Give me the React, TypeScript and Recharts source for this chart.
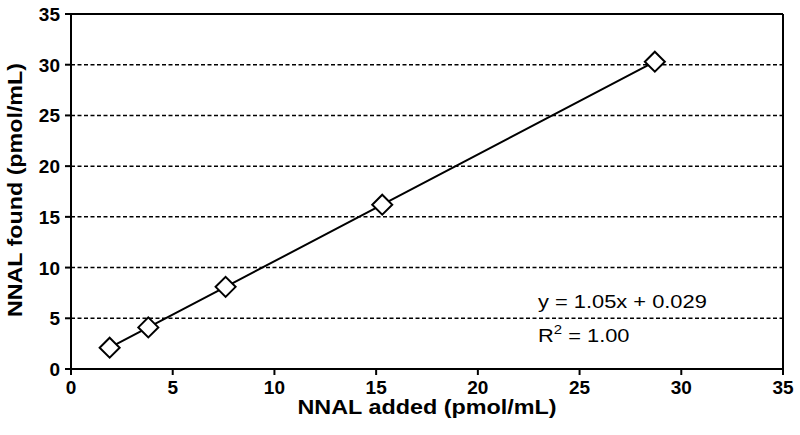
import { ComposedChart, Scatter, XAxis, YAxis, CartesianGrid, ReferenceLine, Customized } from 'recharts'

// NNAL spiked vs. measured (pmol/mL)
const added = [1.9, 3.8, 7.6, 15.3, 28.7]
const found = [2.1, 4.1, 8.1, 16.2, 30.3]
const xTicks = [0, 5, 10, 15, 20, 25, 30, 35]
const yTicks = [0, 5, 10, 15, 20, 25, 30, 35]
const xTitle = 'NNAL added (pmol/mL)'
const yTitle = 'NNAL found (pmol/mL)'
const equation = 'y = 1.05x + 0.029'
const rSquared = '1.00'

const data = added.map((x, i) => ({ x, y: found[i] }))

const font = 'Liberation Sans, Arial, sans-serif'

const Diamond = (props: any) => {
  const { cx, cy } = props
  const r = 10
  return (
    <path
      d={`M${cx},${cy - r} L${cx + r},${cy} L${cx},${cy + r} L${cx - r},${cy} Z`}
      fill="#fff"
      stroke="#000"
      strokeWidth={2}
    />
  )
}

const XTick = (props: any) => {
  const { x, y, payload } = props
  return (
    <text x={x} y={y + 19} textAnchor="middle" fontFamily={font} fontSize={19} fontWeight="bold" fill="#000">
      {payload.value}
    </text>
  )
}

const YTick = (props: any) => {
  const { x, y, payload } = props
  return (
    <text x={x} y={y + 7} textAnchor="end" fontFamily={font} fontSize={19} fontWeight="bold" fill="#000">
      {payload.value}
    </text>
  )
}

// titles + fit equation, drawn straight into the svg
const Annotation = () => (
  <g fontFamily={font} fill="#000">
    <text
      x={427}
      y={414}
      textAnchor="middle"
      fontSize={20}
      fontWeight="bold"
      textLength={259}
      lengthAdjust="spacingAndGlyphs"
    >
      {xTitle}
    </text>
    <text
      x={22}
      y={190}
      transform="rotate(-90, 22, 190)"
      textAnchor="middle"
      fontSize={21}
      fontWeight="bold"
      textLength={254}
      lengthAdjust="spacingAndGlyphs"
    >
      {yTitle}
    </text>
    <g transform="translate(538,0) scale(1.15,1) translate(-538,0)" fontSize={19}>
      <text x={538} y={308}>{equation}</text>
      <text x={538} y={342}>
        R<tspan dy={-8} fontSize={13}>2</tspan>
        <tspan dy={8}> = {rSquared}</tspan>
      </text>
    </g>
  </g>
)

export default function App() {
  return (
    <div style={{ position: 'absolute', left: 0, top: 0, width: 800, height: 435, background: '#fff' }}>
      <ComposedChart
        width={800}
        height={435}
        data={data}
        margin={{ top: 14, right: 17, left: 0, bottom: 0 }}
      >
        <CartesianGrid
          horizontal
          vertical={false}
          stroke="#000"
          strokeWidth={1.5}
          strokeDasharray="4 2.5"
        />
        <XAxis
          type="number"
          dataKey="x"
          domain={[0, 35]}
          ticks={xTicks}
          height={66}
          stroke="#000"
          strokeWidth={2}
          tickSize={6}
          tickMargin={0}
          tickLine={{ stroke: '#000', strokeWidth: 2 }}
          tick={<XTick />}
        />
        <YAxis
          type="number"
          dataKey="y"
          domain={[0, 35]}
          ticks={yTicks}
          width={71}
          stroke="#000"
          strokeWidth={2}
          tickSize={6}
          tickMargin={5}
          tickLine={{ stroke: '#000', strokeWidth: 2 }}
          tick={<YTick />}
        />
        <ReferenceLine y={35} stroke="#000" strokeWidth={2} />
        <ReferenceLine x={35} stroke="#000" strokeWidth={2} />
        <Scatter
          dataKey="y"
          data={data}
          line={{ stroke: '#000', strokeWidth: 2 }}
          shape={<Diamond />}
          isAnimationActive={false}
        />
        <Customized component={Annotation} />
      </ComposedChart>
    </div>
  )
}
